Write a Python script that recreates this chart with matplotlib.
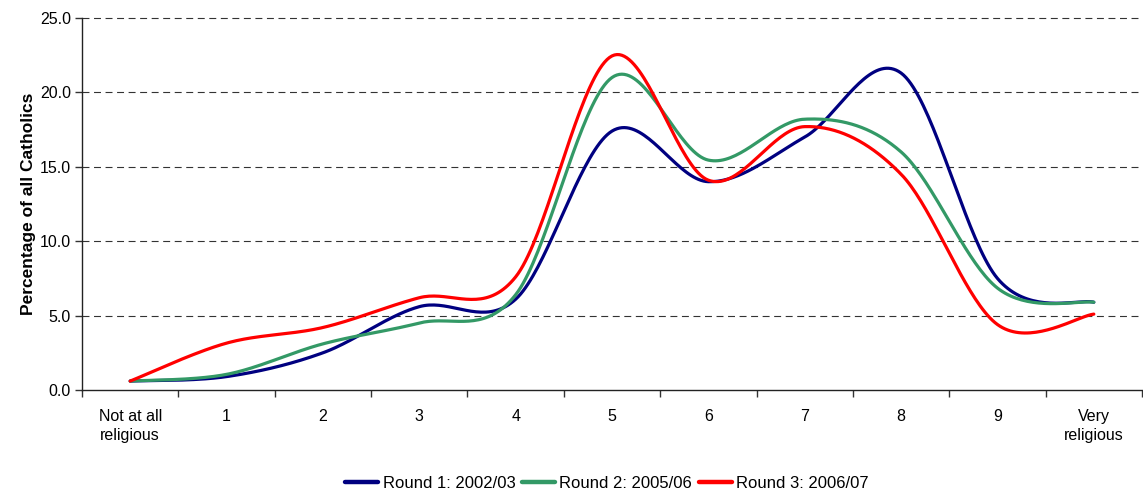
import numpy as np
import matplotlib
matplotlib.use("Agg")
import matplotlib.pyplot as plt

categories = ["Not at all\nreligious", "1", "2", "3", "4", "5", "6", "7", "8", "9", "Very\nreligious"]
round1 = [0.6, 0.9, 2.5, 5.6, 6.1, 17.4, 14.0, 17.0, 21.3, 7.5, 5.9]
round2 = [0.6, 1.05, 3.1, 4.5, 6.4, 21.0, 15.45, 18.2, 16.0, 6.85, 5.9]
round3 = [0.6, 3.15, 4.2, 6.2, 7.6, 22.45, 14.1, 17.7, 14.5, 4.4, 5.1]
series_names = ["Round 1: 2002/03", "Round 2: 2005/06", "Round 3: 2006/07"]
yticks = [0, 5, 10, 15, 20, 25]

colors = ["#000080", "#339966", "#FF0000"]


def smooth(y, n=40):
    """Excel-style smoothed line (Catmull-Rom Bezier through the points)."""
    y = np.asarray(y, float)
    x = np.arange(len(y), dtype=float)
    px = np.concatenate([[x[0]], x, [x[-1]]])
    py = np.concatenate([[y[0]], y, [y[-1]]])
    xs, ys = [], []
    t = np.linspace(0, 1, n)
    for i in range(len(y) - 1):
        p0 = np.array([px[i + 1], py[i + 1]])
        p3 = np.array([px[i + 2], py[i + 2]])
        c1 = p0 + (np.array([px[i + 2], py[i + 2]]) - np.array([px[i], py[i]])) / 6
        c2 = p3 - (np.array([px[i + 3], py[i + 3]]) - np.array([px[i + 1], py[i + 1]])) / 6
        b = ((1 - t) ** 3)[:, None] * p0 + (3 * (1 - t) ** 2 * t)[:, None] * c1 \
            + (3 * (1 - t) * t ** 2)[:, None] * c2 + (t ** 3)[:, None] * p3
        xs.append(b[:, 0]); ys.append(b[:, 1])
    return np.concatenate(xs), np.concatenate(ys)


plt.rcParams['font.family'] = ['Liberation Sans', 'DejaVu Sans']
plt.rcParams['lines.scale_dashes'] = False

fig = plt.figure(figsize=(11.43, 4.93), dpi=100)
ax = fig.add_axes([82 / 1143, 1 - 390 / 493, 1060 / 1143, 372 / 493])

for vals, name, c in zip([round1, round2, round3], series_names, colors):
    sx, sy = smooth(vals)
    ax.plot(sx, sy, color=c, lw=2.3, label=name, solid_capstyle='round', zorder=3)

ax.set_xlim(-0.5, len(categories) - 0.5)
ax.set_ylim(0, 25)
ax.set_yticks(yticks)
ax.set_yticklabels([f"{v:.1f}" for v in yticks], fontsize=11.5)
for v in yticks[1:]:
    ax.axhline(v, color='#333333', lw=0.8, dashes=(5, 3.3), zorder=1, clip_on=False)

ax.set_xticks(np.arange(len(categories)))
ax.set_xticklabels(categories, fontsize=11.5, linespacing=1.3)
ax.set_xticks(np.arange(len(categories) + 1) - 0.5, minor=True)
ax.tick_params(axis='x', which='major', length=0, pad=14)
ax.tick_params(axis='x', which='minor', length=5, width=1, direction='out', color='#333333')
ax.tick_params(axis='y', length=5, width=1, direction='out', color='#333333', pad=3)

for s in ['top', 'right']:
    ax.spines[s].set_visible(False)
for s in ['left', 'bottom']:
    ax.spines[s].set_color('#222222')
    ax.spines[s].set_linewidth(1)

ax.set_ylabel("Percentage of all Catholics", fontsize=12.5, fontweight='bold', labelpad=3)

leg = fig.legend(loc='center', bbox_to_anchor=(607 / 1143, 1 - 483 / 493), ncol=3,
                 frameon=False, fontsize=12, handlelength=2.0, handletextpad=0.25,
                 columnspacing=0.4)
for h in leg.get_lines():
    h.set_linewidth(3.2)

fig.savefig("out.png", dpi=100)
